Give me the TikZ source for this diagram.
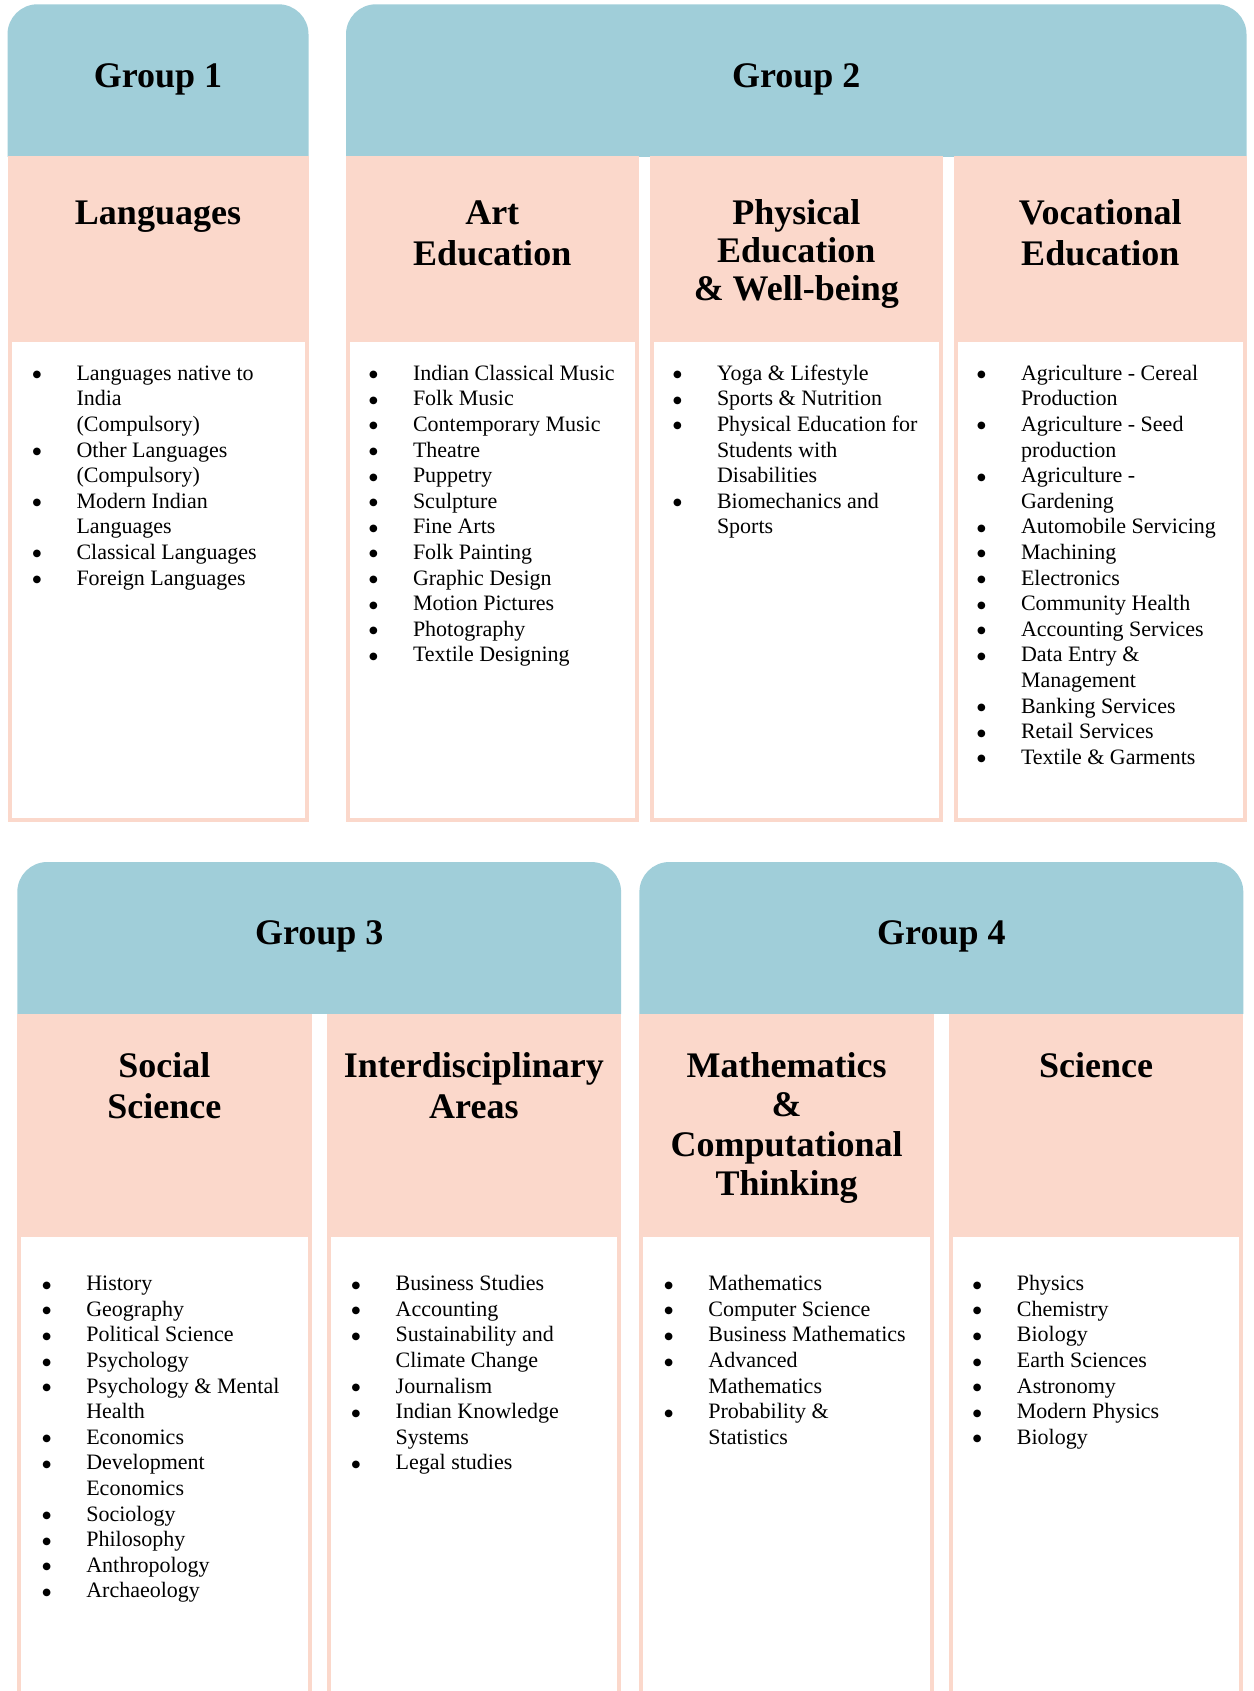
\documentclass[tikz,border=0pt]{standalone}
\usepackage{fontspec}
\setmainfont{Liberation Serif}
\newfontfamily\dotfont{DejaVu Sans}
\usetikzlibrary{fit}

\definecolor{grpblue}{HTML}{A0CED9}
\definecolor{subjpink}{HTML}{FBD8CB}

\newcommand{\titlelines}[1]{\begin{tabular}[t]{@{}c@{}}#1\end{tabular}}
\newcommand{\itemlines}[1]{\begin{tabular}[t]{@{}p{44pt}@{}l@{}}#1\end{tabular}}
\newcommand{\blt}{\raisebox{2.5pt}{\fontsize{10}{10}\dotfont ●}}

\begin{document}
\begin{tikzpicture}[x=1pt, y=-1pt,
  groupbox/.style={fill=grpblue, draw=none, rounded corners=30pt, inner sep=0pt},
  grouptitle/.style={font=\bfseries\fontsize{36}{41}\selectfont, anchor=base, inner sep=0pt},
  subjhead/.style={fill=subjpink, draw=none, inner sep=0pt},
  subjtitle/.style={font=\bfseries\fontsize{36}{41.5}\selectfont, anchor=base, inner sep=0pt},
  listbox/.style={draw=subjpink, fill=white, line width=4pt, inner sep=-2pt},
  subjlist/.style={font=\fontsize{22}{25.6}\selectfont, anchor=base west, inner sep=0pt}]
\useasboundingbox (0,0) rectangle (1253,1691);
\clip (0,0) rectangle (1253,1691);
\fill[white] (0,0) rectangle (1253,1691);

% row 1: groups
\begin{scope}
\clip (7.5,4.3) rectangle (308.5,156.4);
\node[groupbox, fit={(7.5,4.3) (308.5,200)}] (g1) {};
\end{scope}
\begin{scope}
\clip (346,4.3) rectangle (1246.5,156.4);
\node[groupbox, fit={(346,4.3) (1246.5,200)}] (g2) {};
\end{scope}
\node[grouptitle] at ([yshift=-83.7pt]g1.north) {Group 1};
\node[grouptitle] at ([yshift=-83.7pt]g2.north) {Group 2};

% row 1: subject heads
\node[subjhead, fit={(7.5,156.4) (308.5,337.5)}] (lang) {};
\node[subjhead, fit={(346,156.4) (638.5,337.5)}] (art) {};
\node[subjhead, fit={(650,156.4) (942.5,337.5)}] (phys) {};
\node[subjhead, fit={(954,156.4) (1246.5,337.5)}] (voc) {};

\node[subjtitle] at ([yshift=-68pt]lang.north) {\titlelines{Languages}};
\node[subjtitle] at ([yshift=-68pt]art.north) {\titlelines{Art\\Education}};
\node[subjtitle, font=\bfseries\fontsize{36}{38.3}\selectfont] at ([yshift=-68pt]phys.north) {\titlelines{Physical\\Education\\\& Well-being}};
\node[subjtitle] at ([yshift=-68pt]voc.north) {\titlelines{Vocational\\Education}};

% row 1: lists
\node[listbox, fit={(7.5,337.5) (308.5,821.7)}] (lang-box) {};
\node[listbox, fit={(346,337.5) (638.5,821.7)}] (art-box) {};
\node[listbox, fit={(650,337.5) (942.5,821.7)}] (phys-box) {};
\node[listbox, fit={(954,337.5) (1246.5,821.7)}] (voc-box) {};

\node[subjlist] (lang-items) at ([xshift=25pt, yshift=-42.5pt]lang.south west) {\itemlines{
\blt & Languages native to\\ & India\\ & (Compulsory)\\
\blt & Other Languages\\ & (Compulsory)\\
\blt & Modern Indian\\ & Languages\\
\blt & Classical Languages\\
\blt & Foreign Languages}};
\node[subjlist] (art-items) at ([xshift=23pt, yshift=-42.5pt]art.south west) {\itemlines{
\blt & Indian Classical Music\\
\blt & Folk Music\\
\blt & Contemporary Music\\
\blt & Theatre\\
\blt & Puppetry\\
\blt & Sculpture\\
\blt & Fine Arts\\
\blt & Folk Painting\\
\blt & Graphic Design\\
\blt & Motion Pictures\\
\blt & Photography\\
\blt & Textile Designing}};
\node[subjlist] (phys-items) at ([xshift=23pt, yshift=-42.5pt]phys.south west) {\itemlines{
\blt & Yoga \& Lifestyle\\
\blt & Sports \& Nutrition\\
\blt & Physical Education for\\ & Students with\\ & Disabilities\\
\blt & Biomechanics and\\ & Sports}};
\node[subjlist] (voc-items) at ([xshift=23pt, yshift=-42.5pt]voc.south west) {\itemlines{
\blt & Agriculture - Cereal\\ & Production\\
\blt & Agriculture - Seed\\ & production\\
\blt & Agriculture -\\ & Gardening\\
\blt & Automobile Servicing\\
\blt & Machining\\
\blt & Electronics\\
\blt & Community Health\\
\blt & Accounting Services\\
\blt & Data Entry \&\\ & Management\\
\blt & Banking Services\\
\blt & Retail Services\\
\blt & Textile \& Garments}};

% row 2: groups
\begin{scope}
\clip (17.3,862) rectangle (621.1,1013.6);
\node[groupbox, fit={(17.3,862) (621.1,1060)}] (g3) {};
\end{scope}
\begin{scope}
\clip (639.4,862) rectangle (1243.3,1013.6);
\node[groupbox, fit={(639.4,862) (1243.3,1060)}] (g4) {};
\end{scope}
\node[grouptitle] at ([yshift=-83pt]g3.north) {Group 3};
\node[grouptitle] at ([yshift=-83pt]g4.north) {Group 4};

% row 2: subject heads
\node[subjhead, fit={(17.3,1013.6) (311.6,1232.5)}] (soc) {};
\node[subjhead, fit={(326.7,1013.6) (621.1,1232.5)}] (inter) {};
\node[subjhead, fit={(639.4,1013.6) (933.8,1232.5)}] (math) {};
\node[subjhead, fit={(948.9,1013.6) (1243.3,1232.5)}] (sci) {};

\node[subjtitle] at ([yshift=-64pt]soc.north) {\titlelines{Social\\Science}};
\node[subjtitle] at ([yshift=-64pt]inter.north) {\titlelines{Interdisciplinary\\Areas}};
\node[subjtitle, font=\bfseries\fontsize{36}{39.5}\selectfont] at ([yshift=-64pt]math.north) {\titlelines{Mathematics\\\&\\Computational\\Thinking}};
\node[subjtitle] at ([yshift=-64pt]sci.north) {\titlelines{Science}};

% row 2: lists
\node[listbox, fit={(17.3,1232.5) (311.6,1720)}] (soc-box) {};
\node[listbox, fit={(326.7,1232.5) (621.1,1720)}] (inter-box) {};
\node[listbox, fit={(639.4,1232.5) (933.8,1720)}] (math-box) {};
\node[listbox, fit={(948.9,1232.5) (1243.3,1720)}] (sci-box) {};

\node[subjlist] (soc-items) at ([xshift=25pt, yshift=-58pt]soc.south west) {\itemlines{
\blt & History\\
\blt & Geography\\
\blt & Political Science\\
\blt & Psychology\\
\blt & Psychology \& Mental\\ & Health\\
\blt & Economics\\
\blt & Development\\ & Economics\\
\blt & Sociology\\
\blt & Philosophy\\
\blt & Anthropology\\
\blt & Archaeology}};
\node[subjlist] (inter-items) at ([xshift=25pt, yshift=-58pt]inter.south west) {\itemlines{
\blt & Business Studies\\
\blt & Accounting\\
\blt & Sustainability and\\ & Climate Change\\
\blt & Journalism\\
\blt & Indian Knowledge\\ & Systems\\
\blt & Legal studies}};
\node[subjlist] (math-items) at ([xshift=25pt, yshift=-58pt]math.south west) {\itemlines{
\blt & Mathematics\\
\blt & Computer Science\\
\blt & Business Mathematics\\
\blt & Advanced\\ & Mathematics\\
\blt & Probability \&\\ & Statistics}};
\node[subjlist] (sci-items) at ([xshift=24pt, yshift=-58pt]sci.south west) {\itemlines{
\blt & Physics\\
\blt & Chemistry\\
\blt & Biology\\
\blt & Earth Sciences\\
\blt & Astronomy\\
\blt & Modern Physics\\
\blt & Biology}};
\end{tikzpicture}
\end{document}
